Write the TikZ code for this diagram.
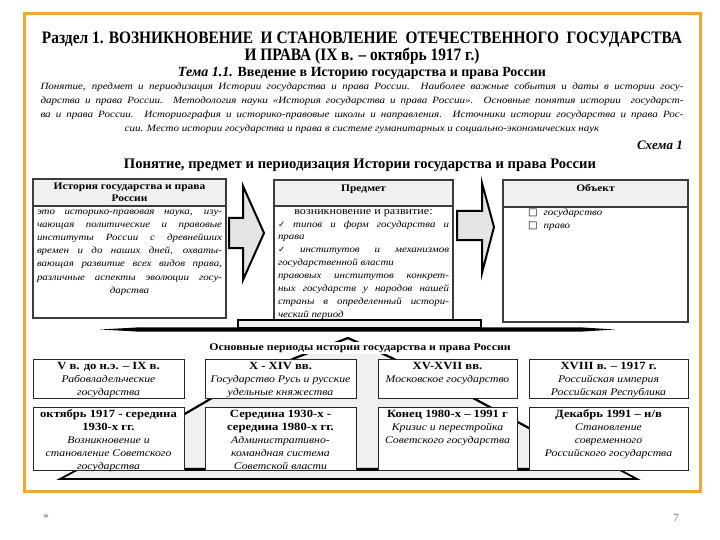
\documentclass[tikz,border=0pt]{standalone}
\usepackage{fontspec}
\setmainfont{Liberation Serif}
\newfontfamily\wideserif{Liberation Serif}[FakeStretch=1.15]
\newfontfamily\narrowserif{Liberation Serif}[FakeStretch=0.88]
\newfontfamily\symfont{DejaVu Sans}
\usetikzlibrary{positioning,calc}
\definecolor{colFrame}{RGB}{240,168,48}
\definecolor{colHead}{RGB}{240,240,240}
\definecolor{colEdge}{RGB}{60,60,60}
\definecolor{colPyr}{RGB}{240,240,240}
\definecolor{colArrow}{RGB}{228,228,228}
\definecolor{colNote}{RGB}{110,110,110}
\tikzset{
  headbox/.style = {rectangle, draw=colEdge, line width=1.2pt, fill=colHead,
                    inner sep=0pt, outer sep=0pt},
  topbox/.style  = {rectangle, draw=colEdge, line width=1.2pt, fill=white,
                    inner sep=0pt, outer sep=0pt},
  pbox/.style    = {rectangle, draw=black!85, line width=1pt, fill=white,
                    inner sep=0pt, outer sep=0pt, anchor=north west},
  headtxt/.style = {font=\wideserif\bfseries\fontsize{10}{12.5}\selectfont,
                    align=center, inner sep=0pt, anchor=north},
  bodytxt/.style = {font=\wideserif\itshape\fontsize{9.5}{13.2}\selectfont,
                    align=justify, inner sep=0pt, anchor=north},
  ptxt/.style    = {font=\wideserif\fontsize{10.2}{13}\selectfont,
                    align=center, inner sep=0pt, anchor=north},
  bigarr/.style  = {draw=black, line width=2pt, fill=colArrow, line join=miter},
  pyr/.style     = {draw=black, line width=2.2pt, fill=colPyr, line join=round},
}
\newcommand{\chk}{{\symfont\fontsize{8.5}{8}\selectfont\upshape ✓}}
\newcommand{\sqbox}{{\symfont\fontsize{10}{10}\selectfont\upshape □}}
\newcommand{\pb}[1]{{\bfseries\fontsize{11}{13}\selectfont #1}}
\newcommand{\midline}{\hbox{}\hskip 0pt plus 1fil\relax}

\begin{document}
\begin{tikzpicture}[x=1pt, y=-1pt]
\useasboundingbox (0,0) rectangle (720,540);

%% Frame
\draw[colFrame, line width=3pt] (24,14) rectangle (700,491);

%% Headings
\node[font=\narrowserif\bfseries\fontsize{17.5}{15}\selectfont, align=center, inner sep=0pt]
  (sect) at (362,48) {Раздел 1. ВОЗНИКНОВЕНИЕ\ \ И СТАНОВЛЕНИЕ\ \ ОТЕЧЕСТВЕННОГО\ \ ГОСУДАРСТВА\\
  И ПРАВА (IX в. – октябрь 1917 г.)};
\node[font=\bfseries\fontsize{14}{14}\selectfont, inner sep=0pt]
  (topic) at (362,73) {\textit{Тема 1.1.} Введение в Историю государства и права России};
\node[font=\wideserif\itshape\fontsize{9.6}{14}\selectfont, text width=643pt,
      align=justify, inner sep=0pt, anchor=north]
  (intro) at (362,82) {Понятие, предмет и периодизация Истории государства и права России.\ \ Наиболее важные события и даты в истории госу-\linebreak
  дарства и права России. Методология науки «История государства и права России». Основные понятия истории\ \ государст-\linebreak
  ва и права России. Историография и историко-правовые школы и направления. Источники истории государства и права Рос-\linebreak
  \midline сии. Место истории государства и права в системе гуманитарных и социально-экономических наук};
\node[font=\bfseries\itshape\fontsize{13}{14}\selectfont, inner sep=0pt, anchor=east]
  (scheme) at (683,145) {Схема 1};
\node[font=\bfseries\fontsize{14.6}{15}\selectfont, inner sep=0pt]
  (title) at (360,165) {Понятие, предмет и периодизация Истории государства и права России};

%% Three upper boxes
\node[headbox, minimum width=193pt, minimum height=27pt, anchor=north west]
  (histhead) at (33,179) {};
\node[topbox, minimum width=193pt, minimum height=112pt, below=0pt of histhead]
  (histbody) {};
\node[headbox, minimum width=179pt, minimum height=26pt, anchor=north west]
  (subjhead) at (274,180) {};
\node[topbox, minimum width=179pt, minimum height=116pt, below=0pt of subjhead]
  (subjbody) {};
\node[headbox, minimum width=185pt, minimum height=27pt, anchor=north west]
  (objhead) at (503,180) {};
\node[topbox, minimum width=185pt, minimum height=115pt, below=0pt of objhead]
  (objbody) {};

\node[headtxt] at ($(histhead.north)+(0,3.5)$) {История государства и права\\России};
\node[headtxt] at ($(subjhead.north)+(0,4.5)$) {Предмет};
\node[headtxt] at ($(objhead.north)+(0,4.5)$) {Объект};

\node[bodytxt, text width=185pt] (histtxt) at ($(histbody.north)+(0,3.5)$)
  {это историко-правовая наука, изу-\linebreak
  чающая политические и правовые\linebreak
  институты России с древнейших\linebreak
  времен и до наших дней, охваты-\linebreak
  вающая развитие всех видов права,\linebreak
  различные аспекты эволюции госу-\linebreak
  \midline дарства};
\node[bodytxt, text width=171pt, font=\wideserif\itshape\fontsize{9.5}{12.9}\selectfont]
  (subjtxt) at ($(subjbody.north)+(0,3)$)
  {\hspace*{\fill}{\upshape\fontsize{10.5}{12.9}\selectfont возникновение и развитие:}\hspace*{\fill}\linebreak
  \chk\ типов и форм государства и\linebreak
  права\newline
  \chk\ институтов и механизмов\linebreak
  государственной власти\newline
  правовых институтов конкрет-\linebreak
  ных государств у народов нашей\linebreak
  страны в определенный истори-\linebreak
  ческий период};
\node[bodytxt, align=left, anchor=north west] (objtxt) at (528,209)
  {\sqbox\hspace{6pt}государство\\ \sqbox\hspace{6pt}право};

%% Arrows between the boxes
\draw[bigarr] (229,218) -- (243,218) -- (243,186) -- (264,233) -- (243,280)
  -- (243,248) -- (229,248) -- cycle;
\draw[bigarr] (457,211) -- (482,211) -- (482,183) -- (494,227) -- (482,273)
  -- (482,240) -- (457,240) -- cycle;

%% Pedestal
\fill (100,329.5) -- (140,327.3) -- (580,327.3) -- (615,329.5) -- (580,331.7)
  -- (140,331.7) -- cycle;
\node[rectangle, draw=black, line width=1.6pt, fill=colHead, minimum width=243pt,
      minimum height=8pt, anchor=south west, inner sep=0pt] (plinth) at (237,329) {};

%% Pyramid behind the periods
\draw[pyr] (348,338) -- (392,358) -- (473,398) -- (527,427) -- (605,469)
  -- (93,469) -- (183,415) -- (212,398) -- (295,358) -- cycle;
\draw[black, line width=1.8pt, fill=colHead] (60,479) -- (637,479) -- (620,470)
  -- (77,470) -- cycle;

\node[font=\wideserif\bfseries\fontsize{10.3}{12}\selectfont, fill=white, inner sep=1.5pt]
  (periods) at (360,348) {Основные периоды истории государства и права России};

%% Period boxes
\node[pbox, minimum width=151pt, minimum height=39pt] (pA) at (33,359) {};
\node[pbox, minimum width=151pt, minimum height=39pt] (pB) at (205,359) {};
\node[pbox, minimum width=139pt, minimum height=39pt] (pC) at (378,359) {};
\node[pbox, minimum width=159pt, minimum height=39pt] (pD) at (529,359) {};
\node[pbox, minimum width=151pt, minimum height=63pt] (pE) at (33,407) {};
\node[pbox, minimum width=151pt, minimum height=63pt] (pF) at (205,407) {};
\node[pbox, minimum width=139pt, minimum height=63pt] (pG) at (378,407) {};
\node[pbox, minimum width=159pt, minimum height=63pt] (pH) at (529,407) {};

\node[ptxt] at ($(pA.north)+(0,3)$) {\pb{V в. до н.э. – IX в.}\\
  \textit{Рабовладельческие}\\\textit{государства}};
\node[ptxt] at ($(pB.north)+(0,3)$) {\pb{X - XIV вв.}\\
  \textit{Государство Русь и русские}\\\textit{удельные княжества}};
\node[ptxt] at ($(pC.north)+(0,3)$) {\pb{XV-XVII вв.}\\
  \textit{Московское государство}};
\node[ptxt] at ($(pD.north)+(0,3)$) {\pb{XVIII в. – 1917 г.}\\
  \textit{Российская империя}\\\textit{Российская Республика}};
\node[ptxt] at ($(pE.north)+(0,2.5)$) {\pb{октябрь 1917 - середина}\\
  \pb{1930-х гг.}\\\textit{Возникновение и}\\\textit{становление Советского}\\
  \textit{государства}};
\node[ptxt] at ($(pF.north)+(0,2.5)$) {\pb{Середина 1930-х -}\\
  \pb{середина 1980-х гг.}\\\textit{Административно-}\\\textit{командная система}\\
  \textit{Советской власти}};
\node[ptxt] at ($(pG.north)+(0,2.5)$) {\pb{Конец 1980-х – 1991 г}\\
  \textit{Кризис и перестройка}\\\textit{Советского государства}};
\node[ptxt] at ($(pH.north)+(0,2.5)$) {\pb{Декабрь 1991 – н/в}\\
  \textit{Становление}\\\textit{современного}\\\textit{Российского государства}};

%% Slide footer
\node[font=\fontsize{11}{11}\selectfont, text=colNote] (star) at (46,518) {*};
\node[font=\fontsize{11}{11}\selectfont, text=colNote] (pagenum) at (676,518) {7};
\end{tikzpicture}
\end{document}
